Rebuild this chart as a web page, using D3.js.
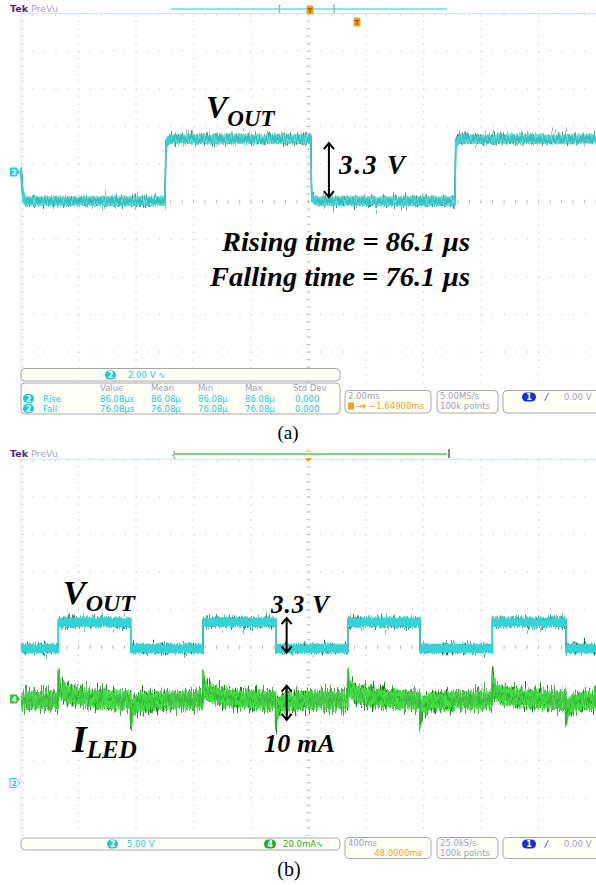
<!DOCTYPE html>
<html>
<head>
<meta charset="utf-8">
<script src="https://cdn.jsdelivr.net/npm/d3@7"></script>
<style>
  body { margin: 0; background: #fff; }
  svg { display: block; }
</style>
</head>
<body>
<svg id="fig" width="596" height="885"></svg>
<script>
// ---- data read off the two scope captures ----
// (a) 2.00 ms/div, ch2 2.00 V/div (AC)
const timeA = [-10.0, -9.93, -9.85, -4.99, -4.96, -4.90, -4.80, 0.08, 0.11, 0.18, 0.28, 5.09, 5.12, 5.18, 5.28, 10.0]; // ms
const voutA = [0.05, -1.30, -1.55, -1.55, 1.45, 1.65, 1.75, 1.75, -1.25, -1.45, -1.55, -1.55, 1.45, 1.65, 1.75, 1.75]; // V

// (b) 400 ms/div, ch2 5.00 V/div, ch4 20.0 mA/div
const timeB = [-2000, -1740, -1740, -1237, -1237, -734, -734, -228, -228, 273, 273, 776, 776, 1279, 1279, 1791, 1791, 2000]; // ms
const voutB = [0, 0, 3.5, 3.5, 0, 0, 3.5, 3.5, 0, 0, 3.5, 3.5, 0, 0, 3.5, 3.5, 0, 0]; // V
const timeI = [-2000, -1741, -1740, -1730, -1680, -1540, -1340, -1238, -1237, -1225, -1177, -990,
               -735, -734, -724, -674, -534, -334, -229, -228, -216, -168, 20,
               272, 273, 283, 333, 473, 673, 775, 776, 788, 836, 1020,
               1278, 1279, 1289, 1339, 1479, 1679, 1790, 1791, 1803, 1851, 2000]; // ms
const iled = [0, 0, 12, 6, 3, 1, 0, 0, -11, -4, -1, 0,
              0, 12, 6, 3, 1, 0, 0, -11, -4, -1, 0,
              0, 12, 6, 3, 1, 0, 0, -11, -4, -1, 0,
              0, 12, 6, 3, 1, 0, 0, -11, -4, -1, 0]; // mA

// readouts
const measHead = ["Value", "Mean", "Min", "Max", "Std Dev"];
const measRise = ["86.08\u00b5s", "86.08\u00b5", "86.08\u00b5", "86.08\u00b5", "0.000"];
const measFall = ["76.08\u00b5s", "76.08\u00b5", "76.08\u00b5", "76.08\u00b5", "0.000"];

const W = 596, H = 885;
const svg = d3.select("#fig");
const defs = svg.append("defs");

const sans = "'DejaVu Sans', Verdana, sans-serif";
const serif = "'Liberation Serif', 'Times New Roman', serif";
const CYAN = "#36d3d6", CYAN_D = "#1b6a5e", GREEN = "#42dc42", GREEN_D = "#1f8022";
const PURPLE = "#4b2a80", LAV = "#a9a2d6", GRAYTXT = "#9e9ec4", ORANGE = "#f0a020";

// trace noise is a rendering effect (vertical thickening + turbulence displacement), not data
function noiseFilter(id, thick, scale, seed) {
  const f = defs.append("filter").attr("id", id)
    .attr("filterUnits", "userSpaceOnUse")
    .attr("x", 0).attr("y", 0).attr("width", W).attr("height", H)
    .attr("color-interpolation-filters", "sRGB");
  f.append("feMorphology").attr("in", "SourceGraphic").attr("operator", "dilate")
    .attr("radius", "0 " + thick).attr("result", "th");
  f.append("feTurbulence").attr("type", "fractalNoise")
    .attr("baseFrequency", "0.9 0.02").attr("numOctaves", 2)
    .attr("seed", seed).attr("result", "t");
  f.append("feColorMatrix").attr("in", "t").attr("type", "matrix")
    .attr("values", "0 0 0 0 0.5  0 1 0 0 0  0 0 0 0 0  0 0 0 0 1").attr("result", "m");
  f.append("feDisplacementMap").attr("in", "th").attr("in2", "m")
    .attr("scale", scale).attr("xChannelSelector", "R").attr("yChannelSelector", "G");
}
noiseFilter("vDark", 2, 20, 3);
noiseFilter("vDark2", 1, 28, 9);
noiseFilter("vCore", 4, 6, 7);
noiseFilter("iDark", 7, 30, 11);
noiseFilter("iCore", 8, 14, 5);
noiseFilter("iHair", 1, 40, 21);

// scope screen: 10 x 10 divisions
const divX = d3.scaleLinear().domain([0, 10]).range([21, 596]);
const divYA = d3.scaleLinear().domain([0, 10]).range([13.6, 389.6]);
const divYB = d3.scaleLinear().domain([0, 10]).range([459.3, 835.3]);

const xA = d3.scaleLinear().domain([-10, 10]).range([21, 596]);
const yA = d3.scaleLinear().domain([0, 2]).range([172, 172 - 37.6]);
const xB = d3.scaleLinear().domain([-2000, 2000]).range([21, 596]);
const yB2 = d3.scaleLinear().domain([0, 5]).range([648.5, 648.5 - 37.6]);
const yB4 = d3.scaleLinear().domain([0, 20]).range([700, 700 - 37.6]);

function drawGrid(g, gy) {
  const sx = (divX(1) - divX(0)) / 5, sy = (gy(1) - gy(0)) / 5;
  const c = "#c2c2c2";
  for (let k = 1; k < 10; k++) {
    g.append("line").attr("x1", divX(k)).attr("x2", divX(k))
      .attr("y1", gy(0)).attr("y2", gy(10))
      .attr("stroke", c).attr("stroke-dasharray", "1 " + (sy - 1));
    g.append("line").attr("x1", divX(0)).attr("x2", divX(10))
      .attr("y1", gy(k)).attr("y2", gy(k))
      .attr("stroke", c).attr("stroke-dasharray", "1 " + (sx - 1));
  }
  // ticks on the centre cross and on the frame
  d3.range(0, 50.01, 1).map(i => i / 5).forEach(d => {
    g.append("line").attr("x1", divX(d)).attr("x2", divX(d))
      .attr("y1", gy(5) - 2).attr("y2", gy(5) + 2).attr("stroke", c);
    g.append("line").attr("x1", divX(d)).attr("x2", divX(d))
      .attr("y1", gy(0)).attr("y2", gy(0) + 3).attr("stroke", "#cfe0ea");
    g.append("line").attr("y1", gy(d)).attr("y2", gy(d))
      .attr("x1", divX(5) - 2).attr("x2", divX(5) + 2).attr("stroke", c);
    g.append("line").attr("y1", gy(d)).attr("y2", gy(d))
      .attr("x1", divX(0)).attr("x2", divX(0) + 3).attr("stroke", "#cfe0ea");
  });
  g.append("line").attr("x1", divX(0)).attr("x2", divX(10))
    .attr("y1", gy(0)).attr("y2", gy(0)).attr("stroke", "#cde3ee");
  g.append("line").attr("x1", divX(0)).attr("x2", divX(0))
    .attr("y1", gy(0)).attr("y2", gy(10)).attr("stroke", "#d6e8f0");
}

function header(g, y, barColor, x1, x2) {
  const t = g.append("text").attr("x", 10).attr("y", y).attr("font-family", sans)
    .attr("font-size", 9.5);
  t.append("tspan").attr("font-weight", "bold").attr("fill", PURPLE).text("Tek");
  t.append("tspan").attr("dx", 3).attr("fill", LAV).text("PreVu");
  g.append("line").attr("x1", x1).attr("x2", x2).attr("y1", y - 3).attr("y2", y - 3)
    .attr("stroke", barColor).attr("stroke-width", 2);
}

function pill(g, x, y, label, fill, w) {
  g.append("rect").attr("x", x).attr("y", y - 4.5).attr("width", w || 11).attr("height", 9)
    .attr("rx", 4.5).attr("fill", fill);
  g.append("text").attr("x", x + (w || 11) / 2).attr("y", y + 3).attr("text-anchor", "middle")
    .attr("font-family", sans).attr("font-size", 8).attr("font-weight", "bold")
    .attr("fill", "#fff").text(label);
}

function box(g, x, y, w, h) {
  g.append("rect").attr("x", x).attr("y", y).attr("width", w).attr("height", h)
    .attr("rx", 4).attr("fill", "#fffff8").attr("stroke", "#a8a8a8").attr("stroke-width", 1);
}

function txt(g, x, y, s, color, anchor) {
  return g.append("text").attr("x", x).attr("y", y).attr("font-family", sans)
    .attr("font-size", 8.5).attr("fill", color).attr("text-anchor", anchor || "start").text(s);
}

function chMarker(g, y, label, fill, outline) {
  g.append("path").attr("d", `M10,${y - 4.5}H16.5L20,${y}L16.5,${y + 4.5}H10Z`)
    .attr("fill", outline ? "#fff" : fill).attr("stroke", fill).attr("stroke-width", outline ? 1 : 0);
  g.append("text").attr("x", 14).attr("y", y + 3).attr("text-anchor", "middle")
    .attr("font-family", sans).attr("font-size", 7.5).attr("font-weight", "bold")
    .attr("fill", outline ? fill : "#fff").text(label);
}

function trigT(g, x, y) {
  g.append("rect").attr("x", x - 3.5).attr("y", y - 4.5).attr("width", 7).attr("height", 9)
    .attr("rx", 1.5).attr("fill", ORANGE);
  g.append("text").attr("x", x).attr("y", y + 3).attr("text-anchor", "middle")
    .attr("font-family", sans).attr("font-size", 7).attr("font-weight", "bold")
    .attr("fill", "#8a5a00").text("T");
}

function edgeIcon(g, x, y) {
  g.append("path").attr("d", `M${x},${y + 3}H${x + 1.5}L${x + 3.5},${y - 3}H${x + 5}`)
    .attr("fill", "none").attr("stroke", "#6a6aa8").attr("stroke-width", 1);
}

function dblArrow(g, x, y1, y2) {
  g.append("path")
    .attr("d", `M${x},${y1}V${y2}M${x - 5},${y1 + 6}L${x},${y1}L${x + 5},${y1 + 6}M${x - 5},${y2 - 6}L${x},${y2}L${x + 5},${y2 - 6}`)
    .attr("fill", "none").attr("stroke", "#000").attr("stroke-width", 2);
}

function trace(g, pts, xs, ys, layers) {
  const d = d3.line().x(p => xs(p[0])).y(p => ys(p[1]))(pts);
  layers.forEach(([color, filt, w, op]) => {
    g.append("path").attr("d", d).attr("fill", "none")
      .attr("stroke", color).attr("stroke-width", w).attr("opacity", op)
      .attr("filter", `url(#${filt})`);
  });
}
const vLayers = [[CYAN_D, "vDark", 1.3, 1], [CYAN_D, "vDark2", 1.2, 0.6], [CYAN, "vCore", 1.4, 1]];
const iLayers = [[GREEN_D, "iDark", 1.5, 1], [GREEN, "iCore", 1.5, 1], [GREEN_D, "iHair", 1, 0.5]];

// ================= panel (a) =================
const pa = svg.append("g");
drawGrid(pa.append("g"), divYA);
header(pa, 12, "#92e6e8", 171, 447);
pa.append("text").attr("x", 278).attr("y", 12).attr("font-family", sans).attr("font-size", 9).attr("fill", "#888").text("[");
pa.append("text").attr("x", 332).attr("y", 12).attr("font-family", sans).attr("font-size", 9).attr("fill", "#888").text("]");
trigT(pa, 310, 10);
trigT(pa, 357, 22);
chMarker(pa, 172, "2", "#2ccfe0", false);

trace(pa.append("g"), d3.zip(timeA, voutA), xA, yA, vLayers);

// annotations (a)
const annA = pa.append("g").attr("font-family", serif).attr("font-weight", "bold").attr("font-style", "italic");
const vA = annA.append("text").attr("x", 206).attr("y", 118).attr("font-size", 32);
vA.append("tspan").text("V");
vA.append("tspan").attr("font-size", 23).attr("dy", 8).text("OUT");
annA.append("text").attr("x", 339).attr("y", 174).attr("font-size", 27)
  .attr("textLength", 66).attr("lengthAdjust", "spacing").text("3.3 V");
dblArrow(annA, xA(0.71), yA(1.75) + 4, yA(-1.55) - 4);
annA.append("text").attr("x", 222).attr("y", 251).attr("font-size", 27)
  .attr("textLength", 248).attr("lengthAdjust", "spacingAndGlyphs").text("Rising time = 86.1 \u00b5s");
annA.append("text").attr("x", 210).attr("y", 286).attr("font-size", 27)
  .attr("textLength", 260).attr("lengthAdjust", "spacingAndGlyphs").text("Falling time = 76.1 \u00b5s");

// readouts (a)
const ra = pa.append("g");
box(ra, 21, 368.5, 319, 12.5);
pill(ra, 105, 375, "2", "#22c6d8");
txt(ra, 128, 378, "2.00 V  \u223f", "#2cc4d4");
box(ra, 21, 383, 319, 31);
measHead.forEach((h, i) => txt(ra, [100, 151, 198, 245, 293][i], 391, h, GRAYTXT));
pill(ra, 23, 398.5, "2", "#22c6d8");
pill(ra, 23, 408.5, "2", "#22c6d8");
txt(ra, 43, 401.5, "Rise", "#2cc4d4");
txt(ra, 43, 411.5, "Fall", "#2cc4d4");
measRise.forEach((v, i) => txt(ra, [100, 151, 198, 245, 295][i], 401.5, v, "#2cc4d4"));
measFall.forEach((v, i) => txt(ra, [100, 151, 198, 245, 295][i], 411.5, v, "#2cc4d4"));
box(ra, 345, 390.5, 86, 22.5);
txt(ra, 348, 399, "2.00ms", GRAYTXT);
ra.append("rect").attr("x", 348).attr("y", 402.5).attr("width", 6).attr("height", 7).attr("fill", ORANGE);
txt(ra, 355, 409, "\u2192\u25be \u22121.64900ms", ORANGE);
box(ra, 437, 390.5, 61, 22.5);
txt(ra, 440, 399, "5.00MS/s", GRAYTXT);
txt(ra, 440, 409, "100k points", GRAYTXT);
box(ra, 503, 390.5, 100, 22.5);
pill(ra, 522, 397, "1", "#1530d8", 14);
edgeIcon(ra, 544, 397);
txt(ra, 564, 400, "0.00 V", GRAYTXT);

svg.append("text").attr("x", 288).attr("y", 439).attr("text-anchor", "middle")
  .attr("font-family", serif).attr("font-size", 19).text("(a)");

// ================= panel (b) =================
const pb = svg.append("g");
drawGrid(pb.append("g"), divYB);
header(pb, 457, "#7cd67c", 174, 447);
pb.append("text").attr("x", 171).attr("y", 458).attr("font-family", sans).attr("font-size", 9).attr("fill", "#888").text("{");
pb.append("rect").attr("x", 448).attr("y", 449).attr("width", 2).attr("height", 9).attr("fill", "#888");
pb.append("path").attr("d", "M305,458H312L308.5,462Z").attr("fill", ORANGE);
pb.append("path").attr("d", "M306,451H311").attr("stroke", ORANGE).attr("stroke-width", 1);
chMarker(pb, 699, "4", "#3cbf3c", false);
chMarker(pb, 783, "2", "#2ccfe0", true);

trace(pb.append("g"), d3.zip(timeI, iled), xB, yB4, iLayers);
trace(pb.append("g"), d3.zip(timeB, voutB), xB, yB2, vLayers);

// annotations (b)
const annB = pb.append("g").attr("font-family", serif).attr("font-weight", "bold").attr("font-style", "italic");
const vB = annB.append("text").attr("x", 63).attr("y", 604).attr("font-size", 34);
vB.append("tspan").text("V");
vB.append("tspan").attr("font-size", 24).attr("dy", 7).text("OUT");
annB.append("text").attr("x", 271).attr("y", 613).attr("font-size", 25)
  .attr("textLength", 58).attr("lengthAdjust", "spacing").text("3.3 V");
dblArrow(annB, xB(-152), yB2(3.5) - 4, yB2(0) + 4);
dblArrow(annB, xB(-152), yB4(7.6), yB4(-10.6));
annB.append("text").attr("x", 264).attr("y", 752).attr("font-size", 26)
  .attr("textLength", 71).attr("lengthAdjust", "spacing").text("10 mA");
const iB = annB.append("text").attr("x", 72).attr("y", 752).attr("font-size", 38);
iB.append("tspan").text("I");
iB.append("tspan").attr("font-size", 25).attr("dy", 6).text("LED");

// readouts (b)
const rb = pb.append("g");
box(rb, 21, 838, 319, 12);
pill(rb, 107, 844, "2", "#22c6d8");
txt(rb, 127, 847, "5.00 V", "#2cc4d4");
pill(rb, 264, 844, "4", "#2aa82a", 12);
txt(rb, 283, 847, "20.0mA\u223f", "#2aa82a");
box(rb, 345, 837.5, 86, 21);
txt(rb, 348, 846, "400ms", GRAYTXT);
txt(rb, 422, 856, "48.0000ms", ORANGE, "end");
box(rb, 437, 837.5, 61, 21);
txt(rb, 440, 846, "25.0kS/s", GRAYTXT);
txt(rb, 440, 856, "100k points", GRAYTXT);
box(rb, 503, 837.5, 100, 21);
pill(rb, 522, 844, "1", "#1530d8", 14);
edgeIcon(rb, 544, 844);
txt(rb, 564, 847, "0.00 V", GRAYTXT);

svg.append("text").attr("x", 289).attr("y", 876).attr("text-anchor", "middle")
  .attr("font-family", serif).attr("font-size", 20).text("(b)");
</script>
</body>
</html>
